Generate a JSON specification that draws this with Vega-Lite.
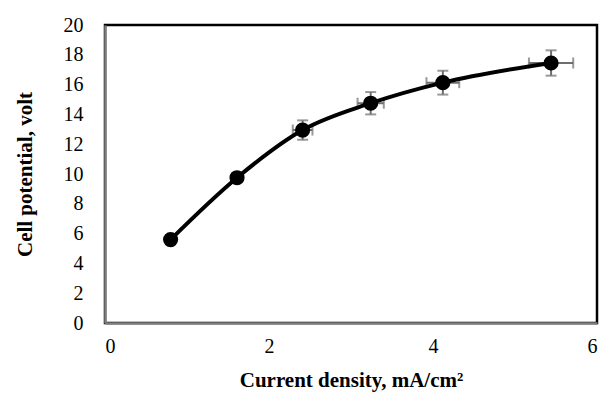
{
  "$schema": "https://vega.github.io/schema/vega-lite/v6.json",
  "width": 492,
  "height": 298,
  "autosize": {"type": "none"},
  "padding": {"left": 105, "top": 25, "right": 15, "bottom": 77},
  "background": "white",
  "config": {
    "view": {"stroke": "black", "strokeWidth": 2.5},
    "axis": {
      "grid": false,
      "ticks": false,
      "labelFont": "Liberation Serif",
      "labelFontSize": 20,
      "labelColor": "black",
      "titleFont": "Liberation Serif",
      "titleFontSize": 21,
      "titleFontWeight": "bold",
      "titleColor": "black",
      "domainColor": "#7f7f7f",
      "domainWidth": 2.5
    }
  },
  "data": {
    "values": [
      {"x": 0.80, "y": 5.6, "xlo": 0.78, "xhi": 0.82, "ylo": 5.5, "yhi": 5.7},
      {"x": 1.61, "y": 9.75, "xlo": 1.56, "xhi": 1.66, "ylo": 9.45, "yhi": 10.05},
      {"x": 2.41, "y": 12.95, "xlo": 2.29, "xhi": 2.53, "ylo": 12.3, "yhi": 13.6},
      {"x": 3.24, "y": 14.75, "xlo": 3.08, "xhi": 3.40, "ylo": 14.0, "yhi": 15.5},
      {"x": 4.12, "y": 16.13, "xlo": 3.92, "xhi": 4.32, "ylo": 15.33, "yhi": 16.93},
      {"x": 5.44, "y": 17.45, "xlo": 5.17, "xhi": 5.71, "ylo": 16.6, "yhi": 18.3}
    ]
  },
  "encoding": {
    "x": {"field": "x", "type": "quantitative", "scale": {"domain": [0, 6], "nice": false},
      "axis": {"values": [0, 2, 4, 6], "format": "d", "labelPadding": 13, "title": "Current density, mA/cm²", "titlePadding": 13}},
    "y": {"field": "y", "type": "quantitative", "scale": {"domain": [0, 20], "nice": false},
      "axis": {"values": [0, 2, 4, 6, 8, 10, 12, 14, 16, 18, 20], "format": "d", "labelPadding": 22, "title": "Cell potential, volt", "titlePadding": 28}}
  },
  "layer": [
    {
      "mark": {"type": "rule", "color": "#6e6e6e", "strokeWidth": 2},
      "encoding": {"y": {"field": "ylo", "type": "quantitative"}, "y2": {"field": "yhi"}}
    },
    {
      "mark": {"type": "tick", "color": "#6e6e6e", "thickness": 2, "size": 11, "orient": "horizontal"},
      "encoding": {"y": {"field": "ylo", "type": "quantitative"}}
    },
    {
      "mark": {"type": "tick", "color": "#6e6e6e", "thickness": 2, "size": 11, "orient": "horizontal"},
      "encoding": {"y": {"field": "yhi", "type": "quantitative"}}
    },
    {
      "mark": {"type": "rule", "color": "#6e6e6e", "strokeWidth": 2},
      "encoding": {"x": {"field": "xlo", "type": "quantitative"}, "x2": {"field": "xhi"}}
    },
    {
      "mark": {"type": "tick", "color": "#6e6e6e", "thickness": 2, "size": 11, "orient": "vertical"},
      "encoding": {"x": {"field": "xlo", "type": "quantitative"}}
    },
    {
      "mark": {"type": "tick", "color": "#6e6e6e", "thickness": 2, "size": 11, "orient": "vertical"},
      "encoding": {"x": {"field": "xhi", "type": "quantitative"}}
    },
    {
      "mark": {"type": "line", "color": "black", "strokeWidth": 4, "interpolate": "monotone"},
      "encoding": {}
    },
    {
      "mark": {"type": "point", "shape": "circle", "filled": true, "color": "black", "opacity": 1, "size": 230},
      "encoding": {}
    }
  ]
}
